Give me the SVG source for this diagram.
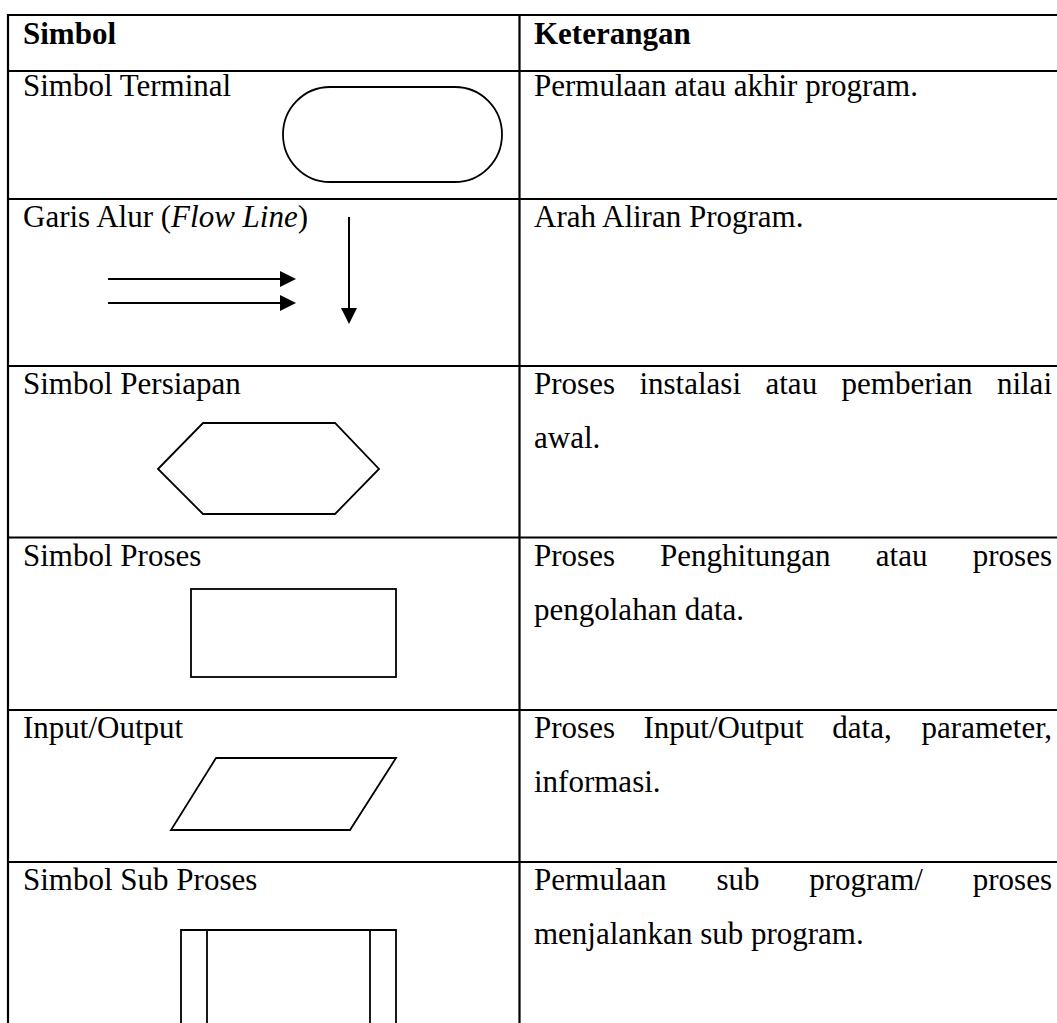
<svg xmlns="http://www.w3.org/2000/svg" width="1057" height="1023" viewBox="0 0 1057 1023">
<style>
  text { font-family: "Liberation Serif", "Times New Roman", serif; font-size: 31px; fill: #000; }
  .b { font-weight: bold; }
  .grid { stroke: #000; stroke-width: 2.2; fill: none; }
  .shape { stroke: #000; stroke-width: 1.8; fill: none; }
  .flow { stroke: #000; stroke-width: 2; fill: none; }
</style>
<defs>
  <marker id="ah" viewBox="0 0 16 16" refX="0" refY="8" markerWidth="16" markerHeight="16" markerUnits="userSpaceOnUse" orient="auto">
    <path d="M0,0 L16,8 L0,16 Z" fill="#000"/>
  </marker>
</defs>
<rect width="1057" height="1023" fill="#fff"/>
<g id="table">
  <line class="grid" x1="8" y1="15" x2="1057" y2="15"/>
  <line class="grid" x1="8" y1="71" x2="1057" y2="71"/>
  <line class="grid" x1="8" y1="199" x2="1057" y2="199"/>
  <line class="grid" x1="8" y1="366" x2="1057" y2="366"/>
  <line class="grid" x1="8" y1="537.5" x2="1057" y2="537.5"/>
  <line class="grid" x1="8" y1="710" x2="1057" y2="710"/>
  <line class="grid" x1="8" y1="862" x2="1057" y2="862"/>
  <line class="grid" x1="8" y1="14" x2="8" y2="1023"/>
  <line class="grid" x1="519.5" y1="14" x2="519.5" y2="1023"/>
</g>
<g id="header">
  <text class="b" x="23" y="44">Simbol</text>
  <text class="b" x="534" y="44">Keterangan</text>
</g>
<g id="row-terminal">
  <text x="23" y="96">Simbol Terminal</text>
  <rect class="shape" x="283" y="87" width="219" height="95" rx="47" ry="47.5"/>
  <text x="534" y="96">Permulaan atau akhir program.</text>
</g>
<g id="row-flowline">
  <text x="23" y="227">Garis Alur (<tspan font-style="italic">Flow Line</tspan>)</text>
  <text x="534" y="227">Arah Aliran Program.</text>
</g>
<g id="connectors">
  <line class="flow" x1="108" y1="279" x2="280" y2="279" marker-end="url(#ah)"/>
  <line class="flow" x1="108" y1="303" x2="280" y2="303" marker-end="url(#ah)"/>
  <line class="flow" x1="349" y1="217" x2="349" y2="308" marker-end="url(#ah)"/>
</g>
<g id="row-persiapan">
  <text x="23" y="394">Simbol Persiapan</text>
  <polygon class="shape" points="158,469 203,423 335,423 379,469 335,514 203,514"/>
  <text x="534" y="394">Proses</text>
  <text x="639.4" y="394">instalasi</text>
  <text x="765.5" y="394">atau</text>
  <text x="841.6" y="394">pemberian</text>
  <text x="1052" y="394" text-anchor="end">nilai</text>
  <text x="534" y="448">awal.</text>
</g>
<g id="row-proses">
  <text x="23" y="566">Simbol Proses</text>
  <rect class="shape" x="191" y="589" width="205" height="88"/>
  <text x="534" y="566">Proses</text>
  <text x="660.1" y="566">Penghitungan</text>
  <text x="875.8" y="566">atau</text>
  <text x="1052" y="566" text-anchor="end">proses</text>
  <text x="534" y="620">pengolahan data.</text>
</g>
<g id="row-io">
  <text x="23" y="738">Input/Output</text>
  <polygon class="shape" points="216,758 396,758 350,830 171,830"/>
  <text x="534" y="738">Proses</text>
  <text x="643.5" y="738">Input/Output</text>
  <text x="832.3" y="738">data,</text>
  <text x="1052" y="738" text-anchor="end">parameter,</text>
  <text x="534" y="792">informasi.</text>
</g>
<g id="row-subproses">
  <text x="23" y="890">Simbol Sub Proses</text>
  <path class="shape" d="M181,1030 V930 H396 V1030"/>
  <line class="shape" x1="207" y1="930" x2="207" y2="1030"/>
  <line class="shape" x1="370" y1="930" x2="370" y2="1030"/>
  <text x="534" y="890">Permulaan</text>
  <text x="716.4" y="890">sub</text>
  <text x="809.3" y="890">program/</text>
  <text x="1052" y="890" text-anchor="end">proses</text>
  <text x="534" y="944">menjalankan sub program.</text>
</g>
</svg>
